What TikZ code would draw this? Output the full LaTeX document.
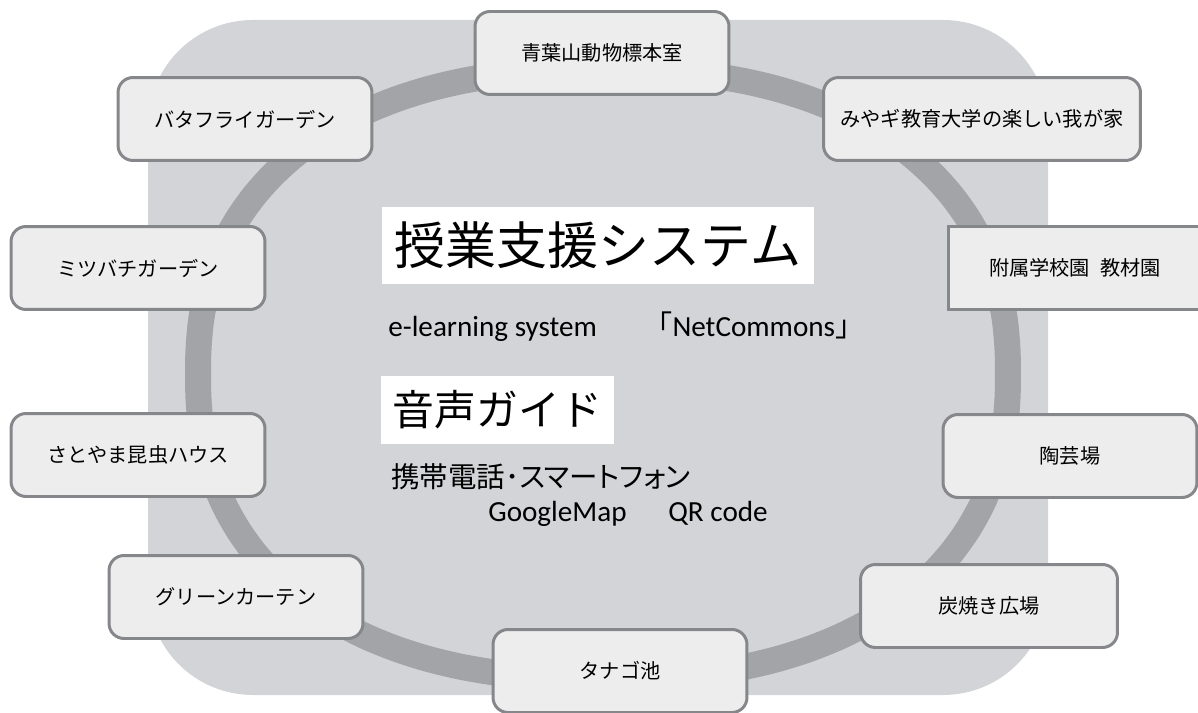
\documentclass[tikz,border=0pt]{standalone}
\usepackage{fontspec}
\setmainfont{Carlito}
\newfontfamily\jpfont{Noto Sans CJK JP}
\newfontfamily\jppalt[RawFeature=+palt]{Noto Sans CJK JP}

\definecolor{areagray}{HTML}{D3D4D7}
\definecolor{ringgray}{HTML}{A3A4A8}
\definecolor{boxfill}{HTML}{EDEDEE}
\definecolor{boxline}{HTML}{86878A}

\tikzstyle{spotbox}=[draw=boxline,fill=boxfill,line width=1.7pt,rounded corners=0.3cm,minimum width=5.08cm,minimum height=1.66cm,font=\jpfont\fontsize{11.5}{14}\selectfont]
\tikzstyle{spotsquare}=[spotbox,sharp corners]
\tikzstyle{ringline}=[draw=ringgray,line width=0.52cm]
\tikzstyle{titlebox}=[fill=white,inner sep=0pt]
\tikzstyle{latintext}=[inner sep=0pt,anchor=base west,font=\fontsize{16.6}{20}\selectfont]

\begin{document}
\begin{tikzpicture}[x=0.02cm,y=-0.02cm]

\useasboundingbox (0,0) rectangle (1198,713);

% area and ring
\fill[areagray,rounded corners=2.1cm] (148,20) rectangle (1048,695);
\draw[ringline] plot[domain=2.5:357.5,samples=72,smooth cycle]
  ({603+405*sign(cos(\x))*pow(abs(cos(\x)),0.87)},{374+305*sign(sin(\x))*pow(abs(sin(\x)),0.87)});

% centre texts
\node[titlebox,minimum width=8.66cm,minimum height=1.54cm,font=\jpfont\fontsize{29}{34}\selectfont] (T1) at (598,245.5) {授業支援システム};
\node[latintext] (L1) at (388,337) {e-learning system};
\node[latintext] (L2) at (643,337) {{\jpfont 「}NetCommons{\jpfont 」}};
\node[titlebox,minimum width=4.66cm,minimum height=1.36cm,font=\jpfont\fontsize{23.8}{28}\selectfont] (T2) at (497.5,410) {音声ガイド};
\node[inner sep=0pt,anchor=west,font=\jppalt\fontsize{16.2}{19}\selectfont] (M1) at (391,477) {携帯電話･スマートフォン};
\node[latintext] (L3) at (488,521) {GoogleMap};
\node[latintext] (L4) at (668,521) {QR code};

% spots
\node[spotbox] (S1) at (602,53) {青葉山動物標本室};
\node[spotbox,minimum width=6.34cm] (S2) at (982,119) {みやギ教育大学の楽しい我が家};
\node[spotbox] (S3) at (245,119) {バタフライガーデン};
\node[spotbox] (S4) at (138,268) {ミツバチガーデン};
\node[spotsquare] (S5) at (1075,268) {附属学校園\hspace{0.5em}教材園};
\node[spotbox] (S6) at (138,455) {さとやま昆虫ハウス};
\node[spotbox] (S7) at (1070,456) {陶芸場};
\node[spotbox] (S8) at (236,597) {グリーンカーテン};
\node[spotbox,minimum width=5.14cm] (S9) at (989,606) {炭焼き広場};
\node[spotbox] (S10) at (620,671) {タナゴ池};

\end{tikzpicture}
\end{document}
